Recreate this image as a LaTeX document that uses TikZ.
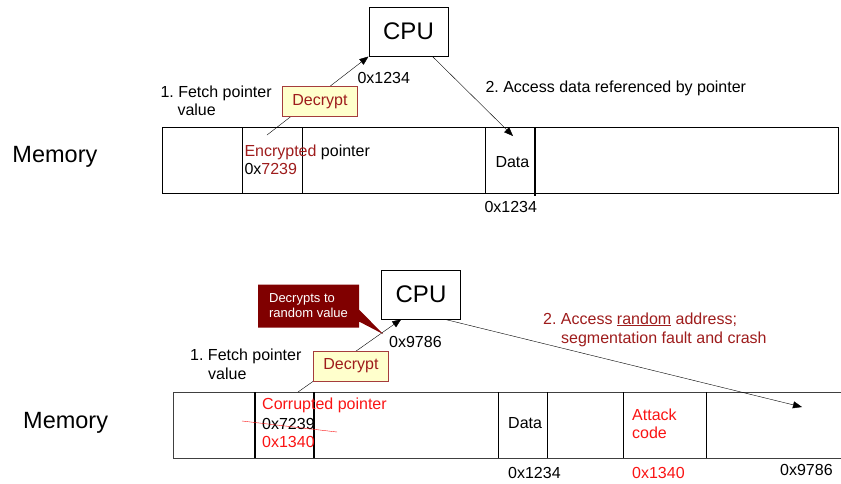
\documentclass[tikz,border=0pt]{standalone}
\usepackage{fontspec}
\setmainfont{Liberation Sans}
\usepackage{xcolor}
\usepackage{tikz}
\usetikzlibrary{positioning,shapes.callouts,arrows.meta,calc}
\pgfdeclarelayer{bg}
\pgfsetlayers{bg,main}
\frenchspacing

\definecolor{cryptred}{RGB}{158,28,28}
\definecolor{boxred}{RGB}{128,0,0}
\definecolor{decfill}{RGB}{255,255,204}
\definecolor{decline}{RGB}{165,60,60}
\definecolor{hotred}{RGB}{250,20,20}

\begin{document}
\begin{tikzpicture}[x=1pt,y=-1pt,line width=1pt,
						lbl/.style = {anchor=base west, inner sep=0, font=\fontsize{16}{18}\selectfont},
						memlbl/.style = {anchor=base west, inner sep=0, font=\fontsize{23.5}{26}\selectfont},
						cpubox/.style = {draw, minimum width=79, minimum height=49, font=\fontsize{24}{26}\selectfont},
						decbox/.style = {draw=decline, fill=decfill, text=cryptred, minimum width=75, minimum height=30, inner sep=0, font=\fontsize{16}{18}\selectfont},
						ptr/.style = {-{Triangle[length=9pt,width=7pt]}},
						thickdiv/.style = {line width=2.2pt}]

					\useasboundingbox (0,0) rectangle (841,483);

					% ---------- normal pointer use ----------
					\node[cpubox] (cpu1) at (408.5,31.5) {CPU};
					\node[lbl] (cpuval1) at (357,83) {0x1234};
					\node[lbl] (fetch1) at (160,97) {1. Fetch pointer};
					\node[lbl] (fetch1b) at (177,115) {value};
					\node[decbox] (dec1) at (320,101.5) {Decrypt};
					\node[lbl] (access1) at (485,92) {2. Access data referenced by pointer};

					\node[memlbl] (mem1) at (12,162) {Memory};
					\draw (162,127) rectangle (838,193);
					\foreach \x in {242,302,485}
						\draw (\x,127) -- (\x,193);
					\draw[thickdiv] (535,128) -- (535,196);

					\node[lbl] (encptr) at (244,156) {{\color{cryptred}Encrypted} pointer};
					\node[lbl] (encval) at (244,174) {0x{\color{cryptred}7239}};
					\node[lbl] (data1) at (495,167) {Data};
					\node[lbl] (addr1) at (484,212) {0x1234};

					\coordinate (ptr1) at (267,135);
					\coordinate (hit1) at (513,136);

					\begin{pgfonlayer}{bg}
						\draw[ptr] (ptr1) -- (cpu1.south west);
					\end{pgfonlayer}
					\draw[ptr] ($(cpu1.south west)+(64,0)$) -- (hit1);

					% ---------- corrupted pointer ----------
					\node[cpubox] (cpu2) at (421,294.5) {CPU};
					\node[lbl] (cpuval2) at (389,347) {0x9786};
					\node[lbl] (fetch2) at (190,360) {1. Fetch pointer};
					\node[lbl] (fetch2b) at (208,379) {value};
					\node[decbox] (dec2) at (351,366) {Decrypt};
					\node[rectangle callout, fill=boxred, text=white, minimum width=101, minimum height=43,
						align=left, inner sep=0, font=\fontsize{13}{15}\selectfont,
						callout absolute pointer={(383,334)}, callout pointer width=12pt] (why) at (308.5,306)
						{Decrypts to\\random value};
					\node[lbl, text=cryptred] (access2) at (543,324) {2. Access \underline{random} address;};
					\node[lbl, text=cryptred] (access2b) at (561,343) {segmentation fault and crash};

					\node[memlbl] (mem2) at (23,428) {Memory};
					\draw[black!75] (841,392) -- (173,392) -- (173,458) -- (841,458);
					\foreach \x in {498,547,623,706}
						\draw (\x,392) -- (\x,458);
					\foreach \x in {255,314}
						\draw[thickdiv] (\x,392) -- (\x,458);

					\node[lbl, text=hotred] (badptr) at (262,409) {Corrupted pointer};
					\node[lbl] (oldval) at (262,429) {0x7239};
					\node[lbl, text=hotred] (newval) at (262,447) {0x1340};
					\draw[hotred] (242,421) -- (337,432);
					\node[lbl] (data2) at (508,428) {Data};
					\node[lbl, text=hotred] (attack) at (632,420) {Attack};
					\node[lbl, text=hotred] (attackb) at (632,438) {code};
					\node[lbl] (addr2) at (508,478) {0x1234};
					\node[lbl, text=hotred] (addr3) at (632,478) {0x1340};
					\node[lbl] (addr4) at (780,475) {0x9786};

					\coordinate (ptr2) at (298,392);
					\coordinate (hit2) at (802,407);

					\begin{pgfonlayer}{bg}
						\draw[ptr] (ptr2) -- ($(cpu2.south west)+(20,0)$);
					\end{pgfonlayer}
					\draw[ptr] ($(cpu2.south west)+(63,0)$) -- (hit2);

				\end{tikzpicture}
\end{document}
